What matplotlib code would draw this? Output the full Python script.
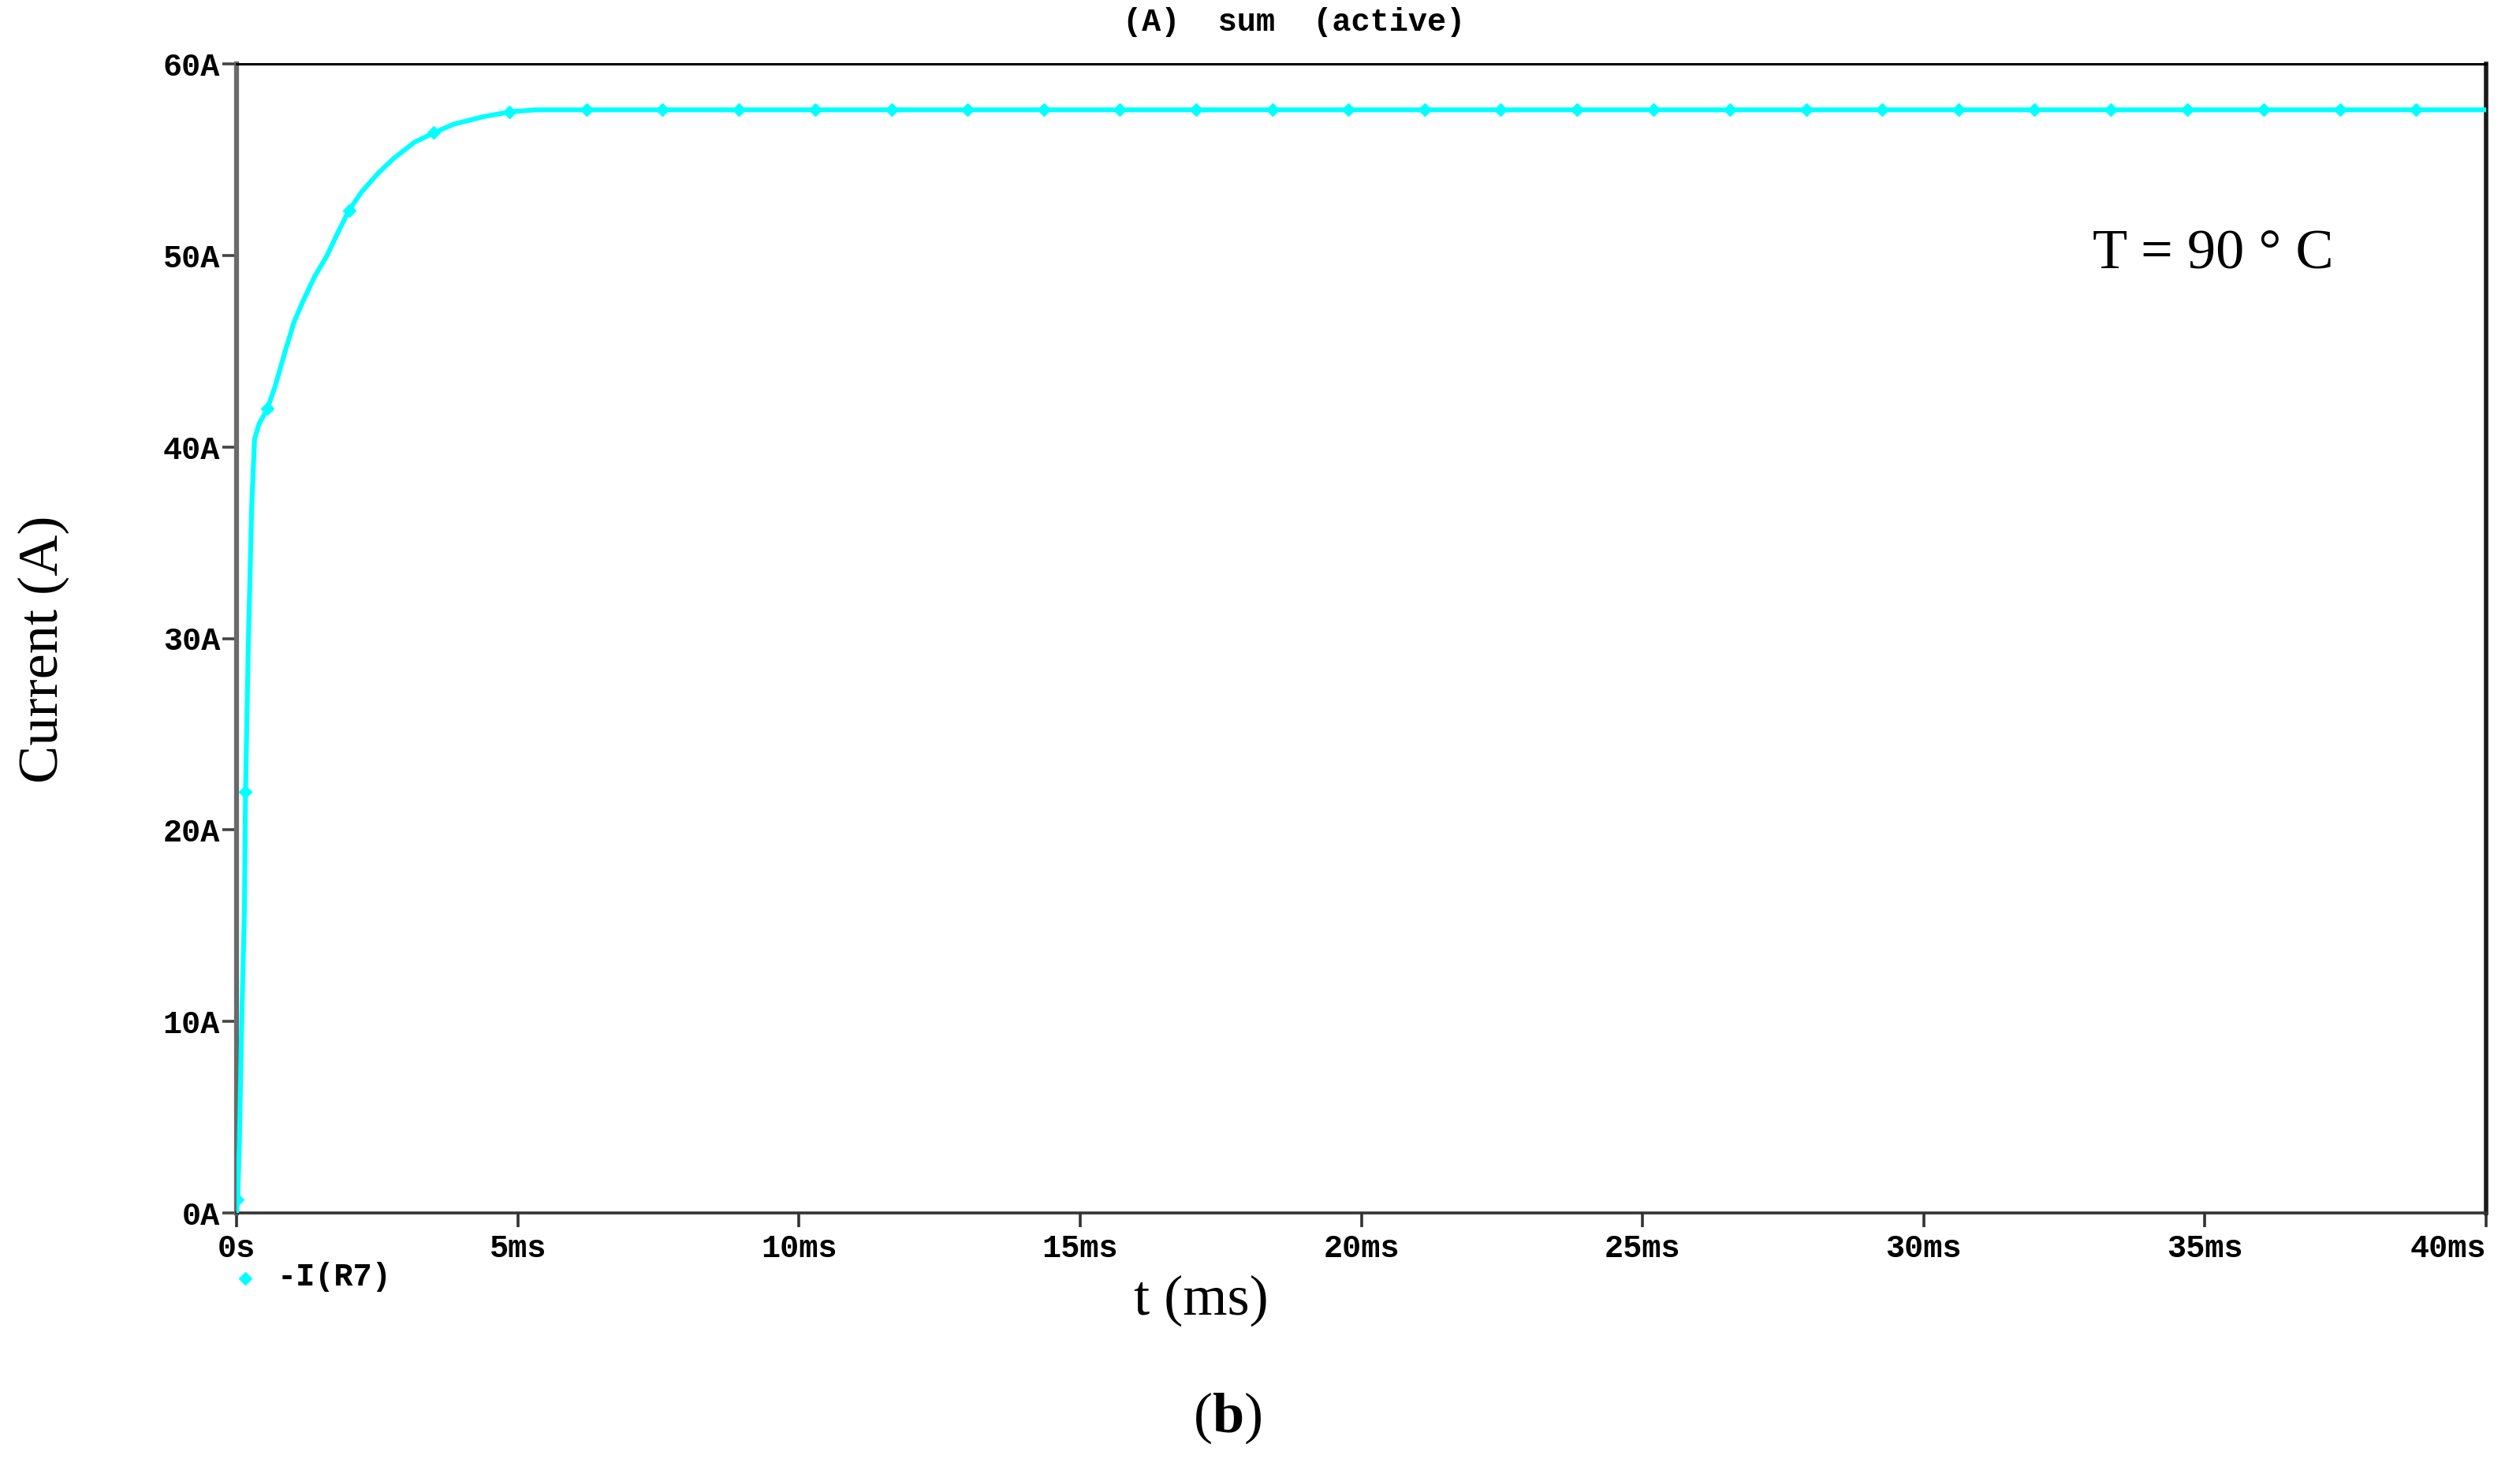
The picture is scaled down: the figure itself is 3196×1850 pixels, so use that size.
import matplotlib
matplotlib.use("Agg")
import matplotlib.pyplot as plt
from matplotlib.lines import Line2D

# --- Data -----------------------------------------------------------------

t_ms = [0.0, 0.02, 0.05, 0.09, 0.14, 0.16, 0.21, 0.27, 0.32, 0.40, 0.55,
        0.69, 0.86, 1.02, 1.18, 1.39, 1.61, 1.82, 2.00, 2.22, 2.52, 2.79,
        3.16, 3.51, 3.86, 4.40, 4.88, 5.31, 6.5, 10.0, 15.0, 20.0, 25.0,
        30.0, 35.0, 40.0]
current_a = [0.0, 0.7, 3.6, 9.7, 15.8, 22.0, 29.8, 36.9, 40.4, 41.2, 42.0,
             43.2, 44.95, 46.5, 47.6, 48.9, 50.0, 51.3, 52.35, 53.3, 54.3,
             55.05, 55.9, 56.4, 56.85, 57.25, 57.5, 57.6, 57.6, 57.6, 57.6,
             57.6, 57.6, 57.6, 57.6, 57.6]

# PSpice symbol markers placed along the trace
marker_t = [0.02, 0.16, 0.55, 2.00, 3.51, 4.85, 6.22, 7.57, 8.93, 10.29,
            11.65, 13.00, 14.35, 15.70, 17.06, 18.42, 19.77, 21.13, 22.48,
            23.84, 25.20, 26.55, 27.91, 29.26, 30.62, 31.97, 33.33, 34.69,
            36.04, 37.40, 38.75]
marker_i = [0.7, 22.0, 42.0, 52.35, 56.4, 57.5, 57.6, 57.6, 57.6, 57.6,
            57.6, 57.6, 57.6, 57.6, 57.6, 57.6, 57.6, 57.6, 57.6,
            57.6, 57.6, 57.6, 57.6, 57.6, 57.6, 57.6, 57.6, 57.6,
            57.6, 57.6, 57.6]

x_ticks = [0, 5, 10, 15, 20, 25, 30, 35, 40]
x_tick_labels = ["0s", "5ms", "10ms", "15ms", "20ms", "25ms", "30ms", "35ms", "40ms"]
y_ticks = [0, 10, 20, 30, 40, 50, 60]
y_tick_labels = ["0A", "10A", "20A", "30A", "40A", "50A", "60A"]

CYAN = "#00FFFF"
MONO = "Liberation Mono"
SERIF = "Liberation Serif"

plt.rcParams["mathtext.fontset"] = "custom"
plt.rcParams["mathtext.bf"] = "Liberation Serif:bold"
plt.rcParams["mathtext.rm"] = "Liberation Serif"

W, H = 3196, 1850
fig = plt.figure(figsize=(W / 100, H / 100), dpi=100)
ax = fig.add_axes([300 / W, 1 - 1538 / H, 2853 / W, 1457 / H])

ax.plot(t_ms, current_a, color=CYAN, lw=4.4, solid_joinstyle="round", zorder=3)
ax.plot(marker_t, marker_i, color=CYAN, lw=0, marker="D", ms=8, zorder=4)

ax.set_xlim(0, 40)
ax.set_ylim(0, 60)

# --- Axes styling (PSpice probe look) ---
ax.spines["left"].set_color("#6a6a6a")
ax.spines["left"].set_linewidth(4.5)
ax.spines["bottom"].set_color("#333333")
ax.spines["bottom"].set_linewidth(2.6)
ax.spines["top"].set_color("#000000")
ax.spines["top"].set_linewidth(2.2)
ax.spines["right"].set_color("#1a1a1a")
ax.spines["right"].set_linewidth(4.0)

ax.set_xticks(x_ticks)
ax.set_xticklabels(x_tick_labels)
ax.set_yticks(y_ticks)
ax.set_yticklabels(y_tick_labels)
ax.tick_params(axis="x", direction="out", length=13, width=2.6, color="#333333",
               pad=6, labelsize=29)
ax.tick_params(axis="y", direction="out", length=13, width=2.6, color="#444444",
               pad=2, labelsize=29)
for lab in ax.get_xticklabels() + ax.get_yticklabels():
    lab.set_fontfamily(MONO)
    lab.set_fontweight("bold")
ax.get_xticklabels()[-1].set_horizontalalignment("right")

# --- Texts ---
fig.text(1641 / W, 1 - 28 / H, "(A)  sum  (active)", family=MONO, fontsize=29,
         fontweight="bold", ha="center", va="center")

fig.add_artist(Line2D([311 / W], [1 - 1621 / H], transform=fig.transFigure,
                      color=CYAN, marker="D", ms=8, lw=0))
fig.text(352 / W, 1 - 1619 / H, "-I(R7)", family=MONO, fontsize=29,
         fontweight="bold", ha="left", va="center")

fig.text(55 / W, 1 - 823 / H, "Current (A)", family=SERIF, fontsize=52,
         rotation=90, ha="center", va="center")
fig.text(1523 / W, 1 - 1649 / H, "t (ms)", family=SERIF, fontsize=52,
         ha="center", va="center")
fig.text(2807 / W, 1 - 322 / H, "T = 90 \u00b0 C", family=SERIF, fontsize=52,
         ha="center", va="center")
fig.text(1557 / W, 1 - 1798 / H, r"($\mathbf{b}$)", family=SERIF, fontsize=52,
         ha="center", va="center")

fig.savefig("out.png", dpi=100)
